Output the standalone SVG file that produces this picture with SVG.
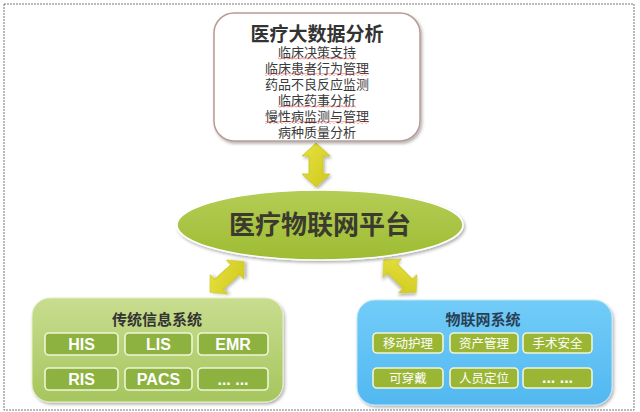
<svg xmlns="http://www.w3.org/2000/svg" width="640" height="412" viewBox="0 0 640 412">
<defs>
<style>
.cn{font-family:"Noto Sans CJK SC","Noto Sans",sans-serif;}
.lst{font-size:13px;fill:#3a3a3a;text-anchor:middle;}
.ttl{font-weight:bold;text-anchor:middle;}
.ib{fill:#8db23f;stroke:#eef5d8;stroke-width:1.6;}
.ibr{fill:#9bb634;stroke:#eef5d8;stroke-width:1.6;}
.it{font-family:"Liberation Sans",Arial,sans-serif;font-weight:bold;font-size:16px;fill:#ffffff;text-anchor:middle;}
.itr{font-size:12.5px;fill:#ffffff;text-anchor:middle;}
.arr{fill:url(#ag);stroke:#c9c21e;stroke-width:0.8;}
</style>
<filter id="sh" x="-10%" y="-10%" width="120%" height="130%">
<feDropShadow dx="1.5" dy="2" stdDeviation="1.5" flood-color="#000" flood-opacity="0.3"/>
</filter>
<linearGradient id="gg" x1="0" y1="0" x2="0" y2="1">
<stop offset="0" stop-color="#c8dd8f"/>
<stop offset="1" stop-color="#a6c55e"/>
</linearGradient>
<linearGradient id="bg" x1="0" y1="0" x2="0" y2="1">
<stop offset="0" stop-color="#72ccf8"/>
<stop offset="1" stop-color="#52b8f0"/>
</linearGradient>
<linearGradient id="eg" x1="0" y1="0" x2="0" y2="1">
<stop offset="0" stop-color="#b4cd55"/>
<stop offset="1" stop-color="#9ebc32"/>
</linearGradient>
<linearGradient id="ag" x1="0" y1="0" x2="1" y2="1">
<stop offset="0" stop-color="#e6e23c"/>
<stop offset="1" stop-color="#cfc820"/>
</linearGradient>
<pattern id="wave" width="4" height="3" patternUnits="userSpaceOnUse">
<polyline points="0,2.5 2,0.5 4,2.5" fill="none" stroke="#e03030" stroke-width="0.7"/>
</pattern>
</defs>

<rect x="4" y="4" width="630" height="406" fill="#ffffff" stroke="#777777" stroke-width="1" stroke-dasharray="2 1"/>

<g id="connectors">
<polygon class="arr" filter="url(#sh)" points="316,143 330,156 323,156 323,174 330,174 316,187 302,174 309,174 309,156 302,156"/>
<polygon class="arr" filter="url(#sh)" transform="translate(227,277) rotate(-42)" points="-23,0 -11,-13 -11,-6.5 11,-6.5 11,-13 23,0 11,13 11,6.5 -11,6.5 -11,13"/>
<polygon class="arr" filter="url(#sh)" transform="translate(400,276) rotate(45)" points="-23,0 -11,-13 -11,-6.5 11,-6.5 11,-13 23,0 11,13 11,6.5 -11,6.5 -11,13"/>
</g>

<g id="bigdata">
<rect x="214" y="13" width="206" height="128" rx="20" fill="#ffffff" stroke="#b89a94" stroke-width="1.5" filter="url(#sh)"/>
<text class="cn ttl" x="317" y="41" font-size="19" fill="#333333">医疗大数据分析</text>
<text class="cn lst" x="317" y="57">临床决策支持</text>
<text class="cn lst" x="317" y="73">临床患者行为管理</text>
<text class="cn lst" x="317" y="89">药品不良反应监测</text>
<text class="cn lst" x="317" y="105">临床药事分析</text>
<text class="cn lst" x="317" y="121">慢性病监测与管理</text>
<text class="cn lst" x="317" y="137">病种质量分析</text>
<rect x="278" y="57" width="78" height="3" fill="url(#wave)"/>
<rect x="265" y="73" width="104" height="3" fill="url(#wave)"/>
<rect x="278" y="105" width="78" height="3" fill="url(#wave)"/>
<rect x="265" y="121" width="104" height="3" fill="url(#wave)"/>
</g>

<g id="platform">
<ellipse cx="320" cy="225" rx="143" ry="35" fill="url(#eg)" stroke="#ffffff" stroke-width="1.5" filter="url(#sh)"/>
<text class="cn ttl" x="320" y="234" font-size="26" fill="#3a3a2e">医疗物联网平台</text>
</g>

<g id="traditional">
<rect x="32" y="298" width="251" height="104" rx="18" fill="url(#gg)" stroke="#e4efc8" stroke-width="1" filter="url(#sh)"/>
<text class="cn ttl" x="157" y="325" font-size="15" fill="#333333">传统信息系统</text>
<rect class="ib" x="45" y="333" width="73" height="22" rx="4"/>
<rect class="ib" x="125" y="333" width="67" height="22" rx="4"/>
<rect class="ib" x="198" y="333" width="70" height="22" rx="4"/>
<rect class="ib" x="45" y="368" width="73" height="22" rx="4"/>
<rect class="ib" x="125" y="368" width="67" height="22" rx="4"/>
<rect class="ib" x="198" y="368" width="70" height="22" rx="4"/>
<text class="it" x="81.5" y="350">HIS</text>
<text class="it" x="158.5" y="350">LIS</text>
<text class="it" x="233" y="350">EMR</text>
<text class="it" x="81.5" y="385">RIS</text>
<text class="it" x="158.5" y="385">PACS</text>
<text class="it" x="233" y="385" font-size="12">... ...</text>
</g>

<g id="iot">
<rect x="357" y="300" width="255" height="105" rx="18" fill="url(#bg)" stroke="#bfe6fb" stroke-width="1" filter="url(#sh)"/>
<text class="cn ttl" x="483" y="325" font-size="15" fill="#2a3f55">物联网系统</text>
<rect class="ibr" x="373" y="333" width="70" height="20" rx="4"/>
<rect class="ibr" x="450" y="333" width="68" height="20" rx="4"/>
<rect class="ibr" x="523" y="333" width="69" height="20" rx="4"/>
<rect class="ibr" x="373" y="368" width="70" height="20" rx="4"/>
<rect class="ibr" x="450" y="368" width="68" height="20" rx="4"/>
<rect class="ibr" x="523" y="368" width="69" height="20" rx="4"/>
<text class="cn itr" x="408" y="348">移动护理</text>
<text class="cn itr" x="484" y="348">资产管理</text>
<text class="cn itr" x="557.5" y="348">手术安全</text>
<text class="cn itr" x="408" y="383">可穿戴</text>
<text class="cn itr" x="484" y="383">人员定位</text>
<text class="it" x="557.5" y="383" font-size="11">... ...</text>
</g>
</svg>
